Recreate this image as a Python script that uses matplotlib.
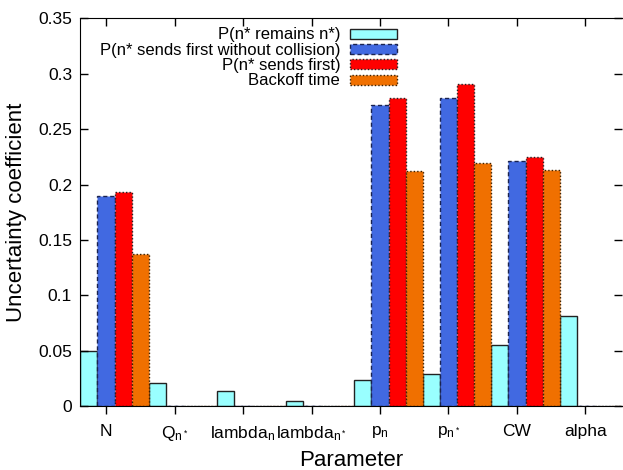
import numpy as np
import matplotlib
matplotlib.use('Agg')
from matplotlib import pyplot as plt

plt.rcParams['font.family'] = ['Liberation Sans', 'DejaVu Sans']
plt.rcParams['mathtext.default'] = 'regular'

params = ['N', r'$Q_{n^*}$', r'$lambda_{n}$', r'$lambda_{n^*}$',
          r'$p_{n}$', r'$p_{n^*}$', 'CW', 'alpha']

remains = [0.050, 0.021, 0.014, 0.005, 0.0235, 0.029, 0.0555, 0.081]
first_no_coll = [0.190, 0.0, 0.0, 0.0, 0.272, 0.278, 0.221, 0.0]
sends_first = [0.193, 0.0, 0.0, 0.0, 0.278, 0.291, 0.225, 0.0]
backoff = [0.137, 0.0, 0.0, 0.0, 0.2125, 0.219, 0.213, 0.0]

labels = ['P(n* remains n*)', 'P(n* sends first without collision)',
          'P(n* sends first)', 'Backoff time']

fig = plt.figure(figsize=(6.23, 4.70), dpi=100)
ax = fig.add_axes([0.129, 0.136, 0.869, 0.825])

x = np.arange(len(params))
w = 0.25
ax.bar(x - w, remains, w, color='#99ffff', edgecolor='#222222', linewidth=1.0,
       label=labels[0])
ax.bar(x, first_no_coll, w, color='#4169e1', edgecolor='#1a2350', linewidth=1.0,
       linestyle=(0, (3, 2)), label=labels[1])
ax.bar(x + w, sends_first, w, color='#ff0000', edgecolor='#222222', linewidth=1.0,
       linestyle=(0, (1, 1.5)), label=labels[2])
ax.bar(x + 2 * w, backoff, w, color='#f07000', edgecolor='#3a2000', linewidth=1.0,
       linestyle=(0, (1, 1.5)), label=labels[3])

ax.set_xlim(-0.375, 7.53)
ax.set_ylim(0, 0.35)
ax.set_xticks(x)
ax.set_xticklabels(params, fontsize=12.5)
ax.set_yticks(np.arange(0, 0.351, 0.05))
ax.set_yticklabels(['0', '0.05', '0.1', '0.15', '0.2', '0.25', '0.3', '0.35'], fontsize=12.5)

ax.tick_params(axis='x', direction='out', length=6, width=1, pad=7, top=False)
ax.tick_params(axis='y', direction='in', length=6, width=1, right=True, pad=6)
top = ax.secondary_xaxis('top')
top.set_xticks(x)
top.tick_params(direction='in', length=6, width=1, labeltop=False)
top.spines['top'].set_visible(False)
ax.spines['right'].set_visible(False)

ax.set_xlabel('Parameter', fontsize=16, labelpad=5)
ax.set_ylabel('Uncertainty coefficient', fontsize=16, labelpad=8)

ax.legend(loc='upper right', bbox_to_anchor=(0.6, 0.998), frameon=False,
          markerfirst=False, fontsize=12, handlelength=2.8, handleheight=0.55,
          labelspacing=0.02, borderpad=0, handletextpad=0.6)

fig.savefig('out.png', dpi=100)
